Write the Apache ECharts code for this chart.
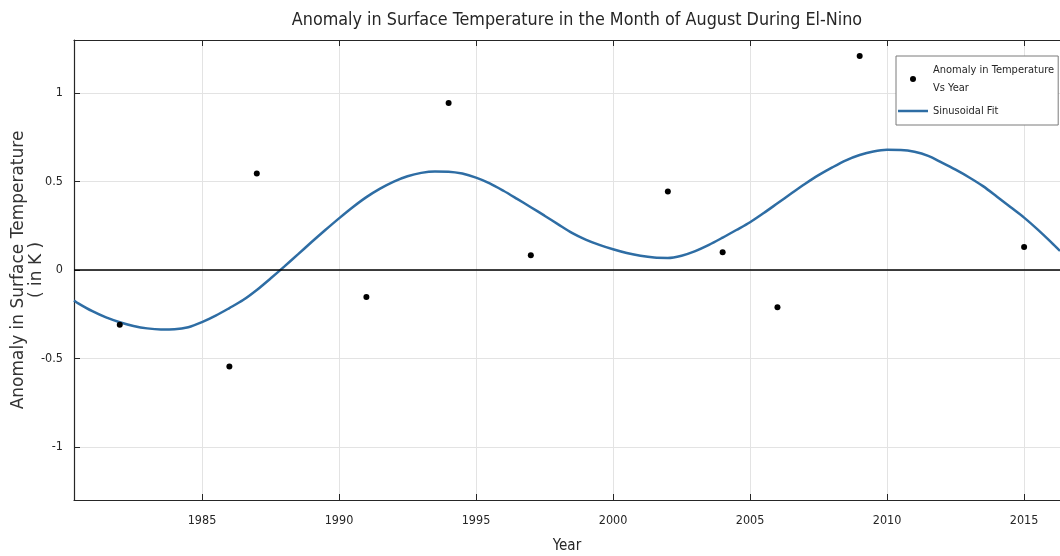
<!DOCTYPE html>
<html>
<head>
<meta charset="utf-8">
<script src="https://cdn.jsdelivr.net/npm/echarts@6/dist/echarts.min.js"></script>
<style>
html,body{margin:0;padding:0;background:#fff;}
#chart{width:1060px;height:556px;}
</style>
</head>
<body>
<div id="chart"></div>
<script>
const titleText = 'Anomaly in Surface Temperature in the Month of August During El-Nino';
const xName = 'Year';
const yName = 'Anomaly in Surface Temperature\n( in K )';
const scatterName = 'Anomaly in Temperature\nVs Year';
const fitName = 'Sinusoidal Fit';

const obsYears = [1982, 1986, 1987, 1991, 1994, 1997, 2002, 2004, 2006, 2009, 2015];
const obsValues = [-0.31, -0.545, 0.545, -0.152, 0.944, 0.084, 0.444, 0.10, -0.21, 1.21, 0.13];

const fitYears = [1980.33, 1980.5, 1981, 1981.5, 1982, 1982.5, 1983, 1983.5, 1984, 1984.5, 1985, 1985.5, 1986, 1986.5, 1987, 1987.5, 1988, 1988.5, 1989, 1989.5, 1990, 1990.5, 1991, 1991.5, 1992, 1992.5, 1993, 1993.5, 1994, 1994.5, 1995, 1995.5, 1996, 1996.5, 1997, 1997.5, 1998, 1998.5, 1999, 1999.5, 2000, 2000.5, 2001, 2001.5, 2002, 2002.5, 2003, 2003.5, 2004, 2004.5, 2005, 2005.5, 2006, 2006.5, 2007, 2007.5, 2008, 2008.5, 2009, 2009.5, 2010, 2010.5, 2011, 2011.5, 2012, 2012.5, 2013, 2013.5, 2014, 2014.5, 2015, 2015.5, 2016, 2016.31];
const fitValues = [-0.172, -0.19, -0.233, -0.268, -0.295, -0.316, -0.33, -0.336, -0.335, -0.324, -0.295, -0.258, -0.215, -0.17, -0.113, -0.048, 0.019, 0.088, 0.158, 0.226, 0.292, 0.355, 0.412, 0.46, 0.5, 0.53, 0.549, 0.557, 0.556, 0.545, 0.522, 0.49, 0.448, 0.402, 0.355, 0.307, 0.258, 0.21, 0.172, 0.142, 0.117, 0.096, 0.08, 0.07, 0.068, 0.081, 0.107, 0.142, 0.183, 0.226, 0.27, 0.322, 0.377, 0.432, 0.486, 0.536, 0.58, 0.62, 0.65, 0.67, 0.679, 0.678, 0.668, 0.645, 0.607, 0.567, 0.523, 0.474, 0.416, 0.356, 0.296, 0.228, 0.155, 0.108];

const xMin = 1980.33, xMax = 2016.31;
const yMin = -1.3, yMax = 1.3;

const narrow = '"DejaVu Sans Condensed", "Liberation Sans Narrow", Arial, sans-serif';
const axisColor = '#262626';
const gridColor = '#e3e3e3';

const chart = echarts.init(document.getElementById('chart'));
chart.setOption({
  animation: false,
  backgroundColor: '#fff',
  title: {
    text: titleText,
    left: 572, top: 6, textAlign: 'center',
    textStyle: { fontFamily: narrow, fontSize: 17.8, fontWeight: 'normal', color: '#262626' }
  },
  grid: { left: 74, top: 40, right: 0, bottom: 56, containLabel: false, outerBoundsMode: 'none' },
  legend: {
    orient: 'vertical',
    left: 896, top: 56,
    padding: [5, 4, 5, 2],
    itemGap: 5,
    itemWidth: 30, itemHeight: 6,
    backgroundColor: '#fff',
    borderColor: '#7a7a7a', borderWidth: 1, borderRadius: 0,
    textStyle: { fontFamily: narrow, fontSize: 11, color: '#262626', lineHeight: 18 },
    data: [
      { name: scatterName, icon: 'circle', itemStyle: { color: '#000' } },
      { name: fitName, icon: 'path://M0,0 L30,0 L30,2.5 L0,2.5 Z', itemStyle: { color: '#2e6da4' } }
    ]
  },
  xAxis: [{
    type: 'value', min: xMin, max: xMax,
    minInterval: 5, maxInterval: 5,
    name: xName, nameLocation: 'middle', nameGap: 39, nameMoveOverlap: false,
    nameTextStyle: { fontFamily: narrow, fontSize: 15, color: '#262626' },
    axisLine: { show: true, onZero: false, lineStyle: { color: axisColor, width: 1.2 } },
    axisTick: { show: true, inside: true, length: 6, lineStyle: { color: axisColor } },
    axisLabel: { showMinLabel: false, showMaxLabel: false, margin: 14, fontFamily: narrow, fontSize: 12.5, color: '#262626',
      formatter: v => String(v) },
    splitLine: { show: true, lineStyle: { color: gridColor } }
  }, {
    type: 'value', position: 'top', min: xMin, max: xMax,
    minInterval: 5, maxInterval: 5,
    axisLine: { show: true, onZero: false, lineStyle: { color: axisColor, width: 1.2 } },
    axisTick: { show: true, inside: true, length: 6, lineStyle: { color: axisColor } },
    axisLabel: { show: false },
    splitLine: { show: false }
  }],
  yAxis: {
    type: 'value', min: yMin, max: yMax,
    minInterval: 0.5, maxInterval: 0.5,
    name: yName, nameLocation: 'middle', nameGap: 28, nameRotate: 90, nameMoveOverlap: false,
    nameTextStyle: { fontFamily: '"DejaVu Sans", sans-serif', fontSize: 17, color: '#333', lineHeight: 18 },
    axisLine: { show: true, onZero: false, lineStyle: { color: axisColor, width: 1.2 } },
    axisTick: { show: true, inside: true, length: 6, lineStyle: { color: axisColor } },
    axisLabel: { showMinLabel: false, showMaxLabel: false, margin: 11, fontFamily: narrow, fontSize: 12.5, color: '#262626',
      formatter: v => String(v) },
    splitLine: { show: true, lineStyle: { color: gridColor } }
  },
  series: [{
    name: scatterName,
    type: 'scatter',
    symbol: 'circle', symbolSize: 6,
    itemStyle: { color: '#000', opacity: 1 },
    z: 5,
    data: obsYears.map((y, i) => [y, obsValues[i]])
  }, {
    name: fitName,
    type: 'line',
    symbol: 'none', smooth: 0.3,
    lineStyle: { color: '#2e6da4', width: 2.5 },
    itemStyle: { color: '#2e6da4' },
    z: 4,
    data: fitYears.map((y, i) => [y, fitValues[i]]),
    markLine: {
      silent: true, symbol: 'none', animation: false,
      label: { show: false },
      lineStyle: { color: '#000', width: 1.5, type: 'solid' },
      data: [{ yAxis: 0 }]
    }
  }]
});
</script>
</body>
</html>
